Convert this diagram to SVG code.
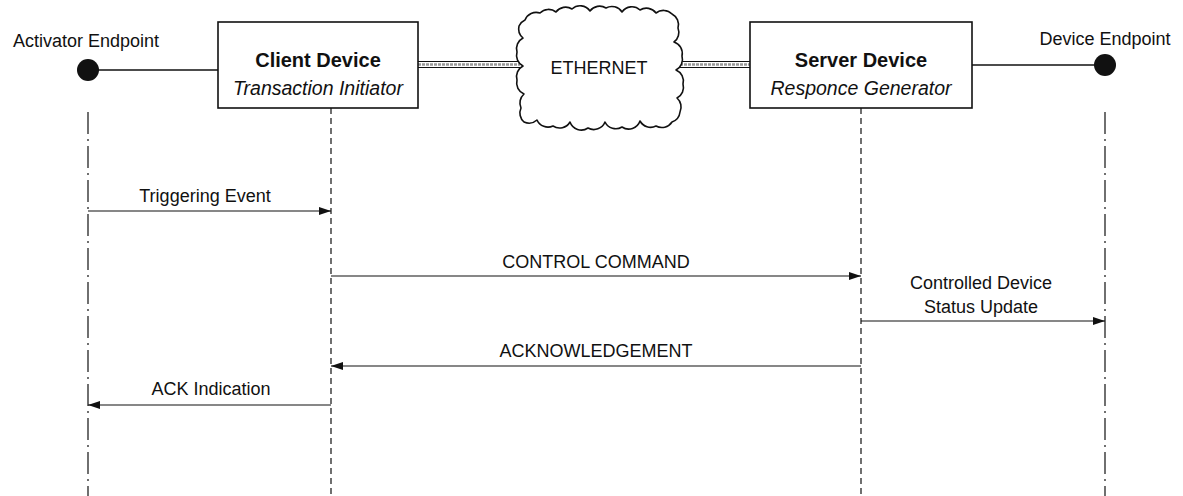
<svg xmlns="http://www.w3.org/2000/svg" width="1183" height="496" viewBox="0 0 1183 496">
  <style>
    .lbl { font-family: "Liberation Sans", Arial, sans-serif; font-size: 18px; fill: #111; }
    .title { font-family: "Liberation Sans", Arial, sans-serif; font-size: 20px; font-weight: bold; fill: #111; }
    .sub { font-family: "Liberation Sans", Arial, sans-serif; font-size: 19.5px; font-style: italic; fill: #111; }
    .box { fill: #fff; stroke: #111; stroke-width: 1.6; }
    .life { stroke: #111; stroke-width: 1.2; stroke-dasharray: 6 4; fill: none; }
    .life-end { stroke: #111; stroke-width: 1.2; stroke-dasharray: 22 5 2 5; fill: none; }
    .msg { stroke: #111; stroke-width: 1.2; fill: none; marker-end: url(#arrow); }
    .link { stroke: #111; stroke-width: 1.4; fill: none; }
    .cable { stroke: #111; stroke-width: 1.2; fill: none; }
    .cable-core { stroke: #999; stroke-width: 2.5; stroke-dasharray: 3 1; fill: none; }
  </style>
  <defs>
    <marker id="arrow" viewBox="0 0 12 8" refX="12" refY="4" markerWidth="12" markerHeight="8" markerUnits="userSpaceOnUse" orient="auto">
      <path d="M0,0 L12,4 L0,8 z" fill="#111"/>
    </marker>
  </defs>

  <g id="connectors">
    <!-- endpoint links -->
    <line class="link" x1="88" y1="70" x2="218" y2="70"/>
    <line class="link" x1="972" y1="65" x2="1105" y2="65"/>
    <!-- ethernet cables: double line with a grey core -->
    <line class="cable-core" x1="418" y1="64.5" x2="520" y2="64.5"/>
    <line class="cable" x1="418" y1="61.5" x2="520" y2="61.5"/>
    <line class="cable" x1="418" y1="67.5" x2="520" y2="67.5"/>
    <line class="cable-core" x1="680" y1="64.5" x2="750" y2="64.5"/>
    <line class="cable" x1="680" y1="61.5" x2="750" y2="61.5"/>
    <line class="cable" x1="680" y1="67.5" x2="750" y2="67.5"/>
    <!-- lifelines -->
    <line class="life-end" x1="88" y1="112" x2="88" y2="496"/>
    <line class="life" x1="331" y1="108" x2="331" y2="496"/>
    <line class="life" x1="861" y1="108" x2="861" y2="496"/>
    <line class="life-end" x1="1105" y1="112" x2="1105" y2="496"/>
    <!-- messages -->
    <line class="msg" x1="88" y1="211" x2="331" y2="211"/>
    <text class="lbl" x="205" y="202" text-anchor="middle">Triggering Event</text>
    <line class="msg" x1="331" y1="276" x2="861" y2="276"/>
    <text class="lbl" x="596" y="268" text-anchor="middle">CONTROL COMMAND</text>
    <line class="msg" x1="861" y1="321" x2="1105" y2="321"/>
    <text class="lbl" x="981" y="289" text-anchor="middle">Controlled Device</text>
    <text class="lbl" x="981" y="313" text-anchor="middle">Status Update</text>
    <line class="msg" x1="861" y1="366" x2="331" y2="366"/>
    <text class="lbl" x="596" y="357" text-anchor="middle">ACKNOWLEDGEMENT</text>
    <line class="msg" x1="331" y1="405" x2="88" y2="405"/>
    <text class="lbl" x="211" y="395" text-anchor="middle">ACK Indication</text>
  </g>

  <g id="activator-endpoint">
    <circle cx="88" cy="70" r="11" fill="#111"/>
    <text class="lbl" x="86" y="47" text-anchor="middle">Activator Endpoint</text>
  </g>

  <g id="client-device">
    <rect class="box" x="218" y="22" width="200" height="86"/>
    <text class="title" x="318" y="67" text-anchor="middle">Client Device</text>
    <text class="sub" x="318" y="95" text-anchor="middle">Transaction Initiator</text>
  </g>

  <g id="ethernet">
    <path d="M525,20 A12,12 0 0 1 540,13 A12,12 0 0 1 556,12 A12,12 0 0 1 572,9 A12,12 0 0 1 590,11 A12,12 0 0 1 606,8 A12,12 0 0 1 622,12 A12,12 0 0 1 640,10 A12,12 0 0 1 656,13 A12,12 0 0 1 672,14 A12,12 0 0 1 678,28 A12,12 0 0 1 674,42 A12,12 0 0 1 682,56 A12,12 0 0 1 676,70 A12,12 0 0 1 683,84 A12,12 0 0 1 677,98 A12,12 0 0 1 680,112 A12,12 0 0 1 672,122 A12,12 0 0 1 656,126 A12,12 0 0 1 640,121 A12,12 0 0 1 622,127 A12,12 0 0 1 605,122 A12,12 0 0 1 588,128 A12,12 0 0 1 570,122 A12,12 0 0 1 553,126 A12,12 0 0 1 537,120 A12,12 0 0 1 524,122 A12,12 0 0 1 521,108 A12,12 0 0 1 524,94 A12,12 0 0 1 517,80 A12,12 0 0 1 523,66 A12,12 0 0 1 517,52 A12,12 0 0 1 523,38 A12,12 0 0 1 519,26 A12,12 0 0 1 525,20 Z" fill="#fff" stroke="#111" stroke-width="1.6" stroke-linejoin="round"/>
    <text class="lbl" x="599" y="74" text-anchor="middle">ETHERNET</text>
  </g>

  <g id="server-device">
    <rect class="box" x="750" y="22" width="222" height="86"/>
    <text class="title" x="861" y="67" text-anchor="middle">Server Device</text>
    <text class="sub" x="861" y="95" text-anchor="middle">Responce Generator</text>
  </g>

  <g id="device-endpoint">
    <circle cx="1105" cy="65" r="11" fill="#111"/>
    <text class="lbl" x="1105" y="45" text-anchor="middle">Device Endpoint</text>
  </g>
</svg>
